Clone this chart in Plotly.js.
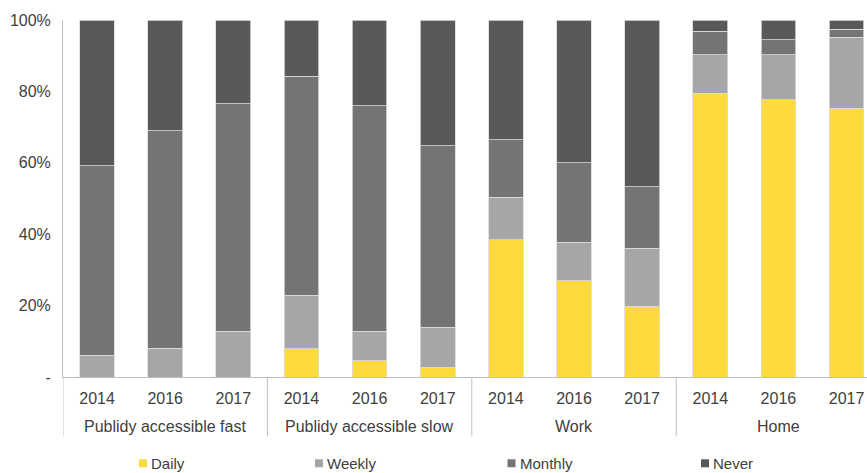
<!DOCTYPE html>
<html>
<head>
<meta charset="utf-8">
<script src="https://cdn.plot.ly/plotly-3.0.1.min.js"></script>
<style>html,body{margin:0;padding:0;overflow:hidden;background:#fff}#chart{width:867px;height:473px}</style>
</head>
<body>
<div id="chart"></div>
<script>
var groups = ['Publidy accessible fast', 'Publidy accessible slow', 'Work', 'Home'];
var years = ['2014', '2016', '2017'];

var daily   = [0,    0,    0,    7.9,  4.5,  2.7,  38.4, 27.0, 19.8, 79.5, 77.7, 75.3];
var weekly  = [6.1,  8.1,  12.8, 15.0, 8.3,  11.3, 11.9, 10.8, 16.2, 10.7, 12.5, 19.8];
var monthly = [53.1, 60.9, 63.7, 61.4, 63.2, 50.8, 16.1, 22.2, 17.3, 6.6,  4.2,  2.3];
var never   = [40.8, 31.0, 23.5, 15.7, 24.0, 35.2, 33.6, 40.0, 46.7, 3.2,  5.6,  2.6];

var seriesNames = ['Daily', 'Weekly', 'Monthly', 'Never'];
var seriesColors = ['#FFDA3E', '#A6A6A6', '#747474', '#595959'];
var yTickVals = [0, 20, 40, 60, 80, 100];
var yTickText = ['-', '20%', '40%', '60%', '80%', '100%'];

// category keys (one per bar) and their year tick labels
var cats = [], catYears = [];
groups.forEach(function (g) { years.forEach(function (y) { cats.push(g + ' ' + y); catYears.push(y); }); });

// plot geometry (pixels)
var W = 867, H = 473, ML = 63, MT = 19.5, MB = 95.5, MR = 0;
var PW = W - ML - MR, PH = H - MT - MB;
function px2x(p) { return (p - ML) / PW; }
function px2y(p) { return (H - MB - p) / PH; }

var values = [daily, weekly, monthly, never];
var traces = values.map(function (v, i) {
  return {
    type: 'bar',
    name: seriesNames[i],
    x: cats,
    y: v,
    marker: { color: seriesColors[i], line: { color: '#d9d9d9', width: 0.8 } },
    hoverinfo: 'skip',
    showlegend: false
  };
});

var lineColor = '#bfbfbf';
var textColor = '#404040';
var shapes = [];
var annotations = [];

// group dividers below the axis
for (var k = 0; k <= groups.length - 1; k++) {
  var xd = k * years.length - 0.5;
  shapes.push({ type: 'line', xref: 'x', yref: 'paper', x0: xd, x1: xd, y0: 0, y1: px2y(437),
    line: { color: lineColor, width: 1 } });
}
// group labels
groups.forEach(function (g, k) {
  annotations.push({ xref: 'x', yref: 'paper', x: k * years.length + (years.length - 1) / 2, y: px2y(427),
    text: g, showarrow: false, xanchor: 'center', yanchor: 'middle',
    font: { size: 16, color: textColor } });
});
// legend
var legSquareX = [139, 315, 507.5, 701];
seriesNames.forEach(function (n, i) {
  var sx = legSquareX[i];
  shapes.push({ type: 'rect', xref: 'paper', yref: 'paper',
    x0: px2x(sx), x1: px2x(sx + 8), y0: px2y(468), y1: px2y(460),
    fillcolor: seriesColors[i], line: { width: 0 } });
  annotations.push({ xref: 'paper', yref: 'paper', x: px2x(sx + 10), y: px2y(464.5),
    text: n, showarrow: false, xanchor: 'left', yanchor: 'middle',
    font: { size: 15, color: textColor } });
});

var layout = {
  width: W,
  height: H,
  margin: { l: ML, r: MR, t: MT, b: MB },
  barmode: 'stack',
  bargap: 0.49,
  paper_bgcolor: '#ffffff',
  plot_bgcolor: '#ffffff',
  font: { family: 'Liberation Sans, Arial, sans-serif', size: 16, color: textColor },
  showlegend: false,
  shapes: shapes,
  annotations: annotations,
  xaxis: {
    type: 'category',
    range: [-0.5, 11.3],
    tickvals: cats,
    ticktext: catYears,
    showline: true,
    linecolor: lineColor,
    linewidth: 1,
    showgrid: false,
    ticks: '',
    ticklabelstandoff: 7,
    tickfont: { size: 16, color: textColor }
  },
  yaxis: {
    range: [0, 100],
    tickvals: yTickVals,
    ticktext: yTickText,
    showline: true,
    linecolor: lineColor,
    linewidth: 1,
    showgrid: false,
    zeroline: false,
    ticks: '',
    ticklabelstandoff: 8,
    tickfont: { size: 16, color: textColor }
  }
};

Plotly.newPlot('chart', traces, layout, { staticPlot: true, displayModeBar: false });
</script>
</body>
</html>
